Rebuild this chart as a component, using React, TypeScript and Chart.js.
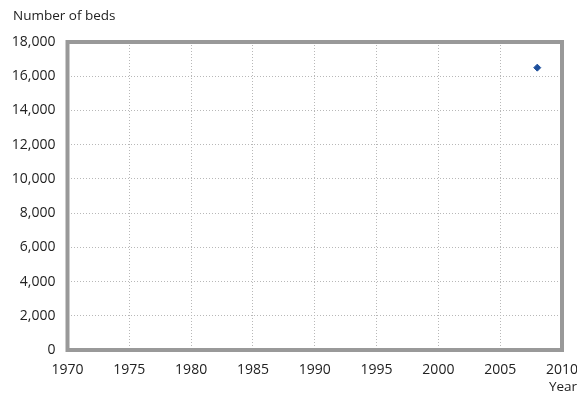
import React, { useEffect, useRef } from "react";
import { Chart, registerables } from "chart.js";

Chart.register(...registerables);

const years: number[] = [2008];
const beds: number[] = [16500];
const xTicks: number[] = [1970, 1975, 1980, 1985, 1990, 1995, 2000, 2005, 2010];
const yTicks: number[] = [0, 2000, 4000, 6000, 8000, 10000, 12000, 14000, 16000, 18000];
const yTitle = "Number of beds";
const xTitle = "Year";

const FONT = "'Open Sans', 'Noto Sans', sans-serif";

const framePlugin = {
  id: "frame",
  afterDatasetsDraw(chart: any) {
    const { ctx, chartArea } = chart;
    ctx.save();
    ctx.strokeStyle = "#999999";
    ctx.lineWidth = 4;
    ctx.strokeRect(chartArea.left, chartArea.top, chartArea.right - chartArea.left, chartArea.bottom - chartArea.top);
    ctx.fillStyle = "#222222";
    ctx.font = `13.5px ${FONT}`;
    ctx.textBaseline = "middle";
    ctx.textAlign = "left";
    ctx.fillText(yTitle, 13, 16);
    ctx.textAlign = "center";
    ctx.fillText(xTitle, chartArea.right + 1, 387);
    ctx.restore();
  },
};

export default function App() {
  const ref = useRef<HTMLCanvasElement | null>(null);
  useEffect(() => {
    if (!ref.current) return;
    const chart = new Chart(ref.current, {
      type: "scatter",
      data: {
        datasets: [
          {
            data: years.map((y, i) => ({ x: y, y: beds[i] })),
            backgroundColor: "#1d4f9c",
            borderColor: "#1d4f9c",
            pointStyle: "rectRot",
            pointRadius: 3.5,
          },
        ],
      },
      options: {
        responsive: false,
        animation: false,
        layout: { padding: { top: 42, right: 15, left: 0, bottom: 0 } },
        plugins: { legend: { display: false }, tooltip: { enabled: false } },
        scales: {
          x: {
            type: "linear",
            min: 1970,
            max: 2010,
            afterBuildTicks: (s: any) => {
              s.ticks = xTicks.map((v) => ({ value: v }));
            },
            afterFit: (s: any) => {
              s.height = 45;
              s.paddingLeft = 0;
              s.paddingRight = 0;
            },
            ticks: {
              color: "#222222",
              font: { family: FONT, size: 14 },
              padding: 12,
              maxRotation: 0,
              callback: (v: any) => String(v),
            },
            grid: {
              color: "#b8b8b8",
              drawTicks: false,
            },
            border: { display: false, dash: [1, 2] },
          },
          y: {
            type: "linear",
            min: 0,
            max: 18000,
            afterBuildTicks: (s: any) => {
              s.ticks = yTicks.map((v) => ({ value: v }));
            },
            afterFit: (s: any) => {
              s.width = 67.5;
              s.paddingTop = 0;
              s.paddingBottom = 0;
            },
            ticks: {
              color: "#222222",
              font: { family: FONT, size: 14 },
              padding: 12,
              callback: (v: any) => Number(v).toLocaleString("en-US"),
            },
            grid: {
              color: "#b8b8b8",
              drawTicks: false,
            },
            border: { display: false, dash: [1, 2] },
          },
        },
      } as any,
      plugins: [framePlugin],
    });
    return () => chart.destroy();
  }, []);
  return (
    <div style={{ position: "fixed", left: 0, top: 0, width: 577, height: 395, background: "#fff" }}>
      <canvas ref={ref} width={577} height={395} />
    </div>
  );
}
